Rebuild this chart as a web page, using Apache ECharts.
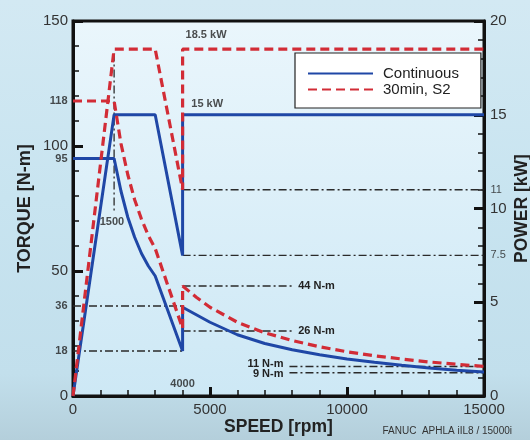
<!DOCTYPE html>
<html>
<head>
<meta charset="utf-8">
<script src="https://cdn.jsdelivr.net/npm/echarts@6/dist/echarts.min.js"></script>
<style>
html,body{margin:0;padding:0;width:530px;height:440px;overflow:hidden;
background:linear-gradient(180deg,#d3e9f3 0%,#c8e4f0 45%,#c2dfec 85%,#b4cfdb 100%);}
#c{width:530px;height:440px;}
</style>
</head>
<body>
<div id="c"></div>
<script>
// ---- data ----
const speedLabels = [0, 5000, 10000, 15000];
const torqueLabels = [0, 50, 100, 150];
const powerLabels = [0, 5, 10, 15, 20];
const torqueExtraLabels = [118, 95, 36, 18];
const powerExtraLabels = [11, 7.5];

// Continuous torque [rpm, N-m]
const contTorque = [[0,95],[1500,95],[1750,82],[2000,71.5],[2250,63.5],[2500,57],[2750,52],[3000,48],[4000,18],
  [4000,35.5],[4500,32.5],[5000,29.5],[6000,24.5],[7000,21],[8000,18.5],[9000,16.5],[10000,14.8],[11000,13.5],[12000,12.3],[13000,11.2],[14000,10.3],[15000,9.6]];
// Continuous power [rpm, kW]
const contPower = [[0,0],[1500,15],[3000,15],[4000,7.5],[4000,15],[15000,15]];
// 30min S2 torque
const s2Torque = [[0,118],[1500,118],[1750,101],[2000,88.5],[2250,78.5],[2500,70.7],[2750,64.2],[3000,59],[4000,27],
  [4000,44],[4500,39.5],[5000,35.5],[6000,29.5],[7000,25.3],[8000,22.2],[9000,19.7],[10000,17.7],[11000,16.1],[12000,14.8],[13000,13.6],[14000,12.7],[15000,11.8]];
// 30min S2 power
const s2Power = [[0,0],[1500,18.5],[3000,18.5],[4000,11],[4000,18.5],[15000,18.5]];

// reference lines: [value, fromRpm, toRpm]
const torqueRefs = [[36,0,4000],[18,0,4000],[44,4000,8000],[26,4000,8000],[11.8,7900,15000],[9.3,7900,15000]];
const torqueRefLabels = ['', '', '44 N-m', '26 N-m', '11 N-m', '9 N-m'];
const powerRefs = [[11,4000,15000],[7.5,4000,15000]];
const speedRef = [1500, 73, 137]; // rpm, torque from, torque to

// annotations
const torqueNotes = [[1420,69.6,'1500'],[4000,4.8,'4000']];
const powerNotes = [[4090,19.25,'18.5 kW'],[4300,15.55,'15 kW']];

const BLUE = '#1f47a6', RED = '#d22c36', REF = '#2a2a2a';
const FONT = 'Liberation Sans, Arial, sans-serif';

const chart = echarts.init(document.getElementById('c'), null, {renderer:'canvas'});

const refStyle = {color: REF, width: 1.3, type: [8,3,2,3]};
const series = [];
const labelOffsets = [[0,0],[0,0],[0,0],[0,0],[0,-3],[0,1]];

torqueRefs.forEach((r, i) => {
  const lab = torqueRefLabels[i];
  const leftLabel = r[1] > 5000;
  const pts = [[r[1], r[0]], [r[2], r[0]]].map((p, k) => {
    const o = {value: p};
    if (lab && ((leftLabel && k === 0) || (!leftLabel && k === 1))) {
      o.label = {show: true, formatter: lab, position: leftLabel ? 'left' : 'right', distance: 6,
        offset: labelOffsets[i],
        fontSize: 11, fontWeight: 'bold', color: '#222', fontFamily: FONT};
    }
    return o;
  });
  series.push({type:'line', yAxisIndex:0, data: pts, symbol:'circle', symbolSize:0.01, showSymbol:true,
    itemStyle:{color:'transparent'}, lineStyle: refStyle, silent:true, z:1, animation:false});
});
powerRefs.forEach(r => {
  series.push({type:'line', yAxisIndex:1, data: [[r[1], r[0]], [r[2], r[0]]], symbol:'none',
    lineStyle: refStyle, silent:true, z:1, animation:false});
});
series.push({type:'line', yAxisIndex:0, data: [[speedRef[0], speedRef[2]], [speedRef[0], speedRef[1]]], symbol:'none',
  lineStyle: refStyle, silent:true, z:1, animation:false});

series.push({name:'Continuous', type:'line', yAxisIndex:0, data: contTorque, symbol:'none',
  lineStyle:{color:BLUE, width:3}, itemStyle:{color:BLUE}, z:3, animation:false});
series.push({name:'Continuous', type:'line', yAxisIndex:1, data: contPower, symbol:'none',
  lineStyle:{color:BLUE, width:3}, itemStyle:{color:BLUE}, z:3, animation:false});
series.push({name:'30min, S2', type:'line', yAxisIndex:0, data: s2Torque, symbol:'none',
  lineStyle:{color:RED, width:3.2, type:[9,5]}, itemStyle:{color:RED}, z:4, animation:false});
series.push({name:'30min, S2', type:'line', yAxisIndex:1, data: s2Power, symbol:'none',
  lineStyle:{color:RED, width:3.2, type:[9,5]}, itemStyle:{color:RED}, z:4, animation:false});

// extra axis labels
series.push({type:'scatter', yAxisIndex:0, clip:false, symbolSize:1, itemStyle:{color:'transparent'},
  data: torqueExtraLabels.map(v => [0, v]),
  label:{show:true, position:'left', distance:5, formatter: p => String(p.value[1]),
    fontSize:11, fontWeight:'bold', color:'#222', fontFamily:FONT}, silent:true, animation:false});
series.push({type:'scatter', yAxisIndex:1, clip:false, symbolSize:1, itemStyle:{color:'transparent'},
  data: powerExtraLabels.map(v => [15000, v]),
  label:{show:true, position:'right', distance:6, formatter: p => String(p.value[1]),
    fontSize:11, color:'#222', fontFamily:FONT}, silent:true, animation:false});
// annotations
series.push({type:'scatter', yAxisIndex:0, clip:false, symbolSize:1, itemStyle:{color:'transparent'},
  data: torqueNotes.map(n => ({value:[n[0], n[1]], name:n[2]})),
  label:{show:true, position:'inside', formatter: p => p.name,
    fontSize:11, fontWeight:'bold', color:'#222', fontFamily:FONT}, silent:true, animation:false});
series.push({type:'scatter', yAxisIndex:1, clip:false, symbolSize:1, itemStyle:{color:'transparent'},
  data: powerNotes.map(n => ({value:[n[0], n[1]], name:n[2]})),
  label:{show:true, position:'right', distance:0, formatter: p => p.name,
    fontSize:11, fontWeight:'bold', color:'#222', fontFamily:FONT}, silent:true, animation:false});

const axisLine = {show:true, lineStyle:{color:'#111', width:3}};
const labelStyle = {fontSize:15, color:'#333', fontFamily:FONT};

chart.setOption({
  backgroundColor: 'transparent',
  animation: false,
  grid: {left:73, right:46, top:21, bottom:44, show:true, borderColor:'#111', borderWidth:3,
    containLabel:false, outerBoundsMode:'none',
    backgroundColor: new echarts.graphic.LinearGradient(0,0,0,1,[{offset:0,color:'#eaf6fc'},{offset:1,color:'#cde8f5'}])},
  legend: {data:['Continuous','30min, S2'], orient:'vertical', left:295, top:53,
    padding:[13,22,11,12], itemGap:1, itemWidth:65, itemHeight:16,
    itemStyle:{opacity:0},
    backgroundColor:'#ffffff', borderColor:'#222', borderWidth:1.2, borderRadius:0,
    textStyle:{fontSize:15, color:'#222', fontFamily:FONT, padding:[0,0,0,5]}, selectedMode:false},
  xAxis: {type:'value', min:0, max:15000, interval:5000,
    axisLine: axisLine, splitLine:{show:false},
    axisTick:{show:true, inside:true, length:9, lineStyle:{width:3, color:'#111'}},
    minorTick:{show:true, splitNumber:5, length:6, lineStyle:{width:1.5, color:'#111'}},
    axisLabel: Object.assign({margin:6, formatter: v => speedLabels.includes(v) ? String(v) : ''}, labelStyle),
    name:'SPEED [rpm]', nameLocation:'middle', nameGap:22, nameMoveOverlap:false,
    nameTextStyle:{fontSize:17.5, fontWeight:'bold', color:'#222', fontFamily:FONT}},
  yAxis: [
    {type:'value', min:0, max:150, interval:50, position:'left',
      axisLine: axisLine, splitLine:{show:false},
      axisTick:{show:true, inside:true, length:10, lineStyle:{width:3, color:'#111'}},
      minorTick:{show:true, splitNumber:5, length:6, lineStyle:{width:1.5, color:'#111'}},
      axisLabel: Object.assign({margin:5, formatter: v => torqueLabels.includes(v) ? String(v) : ''}, labelStyle),
      name:'TORQUE [N-m]', nameLocation:'middle', nameGap:39, nameRotate:90, nameMoveOverlap:false,
      nameTextStyle:{fontSize:18, fontWeight:'bold', color:'#222', fontFamily:FONT}},
    {type:'value', min:0, max:20, interval:5, position:'right',
      axisLine: axisLine, splitLine:{show:false},
      axisTick:{show:true, inside:true, length:10, lineStyle:{width:3, color:'#111'}},
      minorTick:{show:true, splitNumber:5, length:6, lineStyle:{width:1.5, color:'#111'}},
      axisLabel: Object.assign({margin:6, formatter: v => powerLabels.includes(v) ? String(v) : ''}, labelStyle),
      name:'POWER [kW]', nameLocation:'middle', nameGap:29, nameRotate:90, nameMoveOverlap:false,
      nameTextStyle:{fontSize:17.5, fontWeight:'bold', color:'#222', fontFamily:FONT}}
  ],
  graphic: [{type:'text', right:18, bottom:4, style:{text:'FANUC  APHLA iIL8 / 15000i', fontSize:10, fill:'#333', fontFamily:FONT}}],
  series: series
});
</script>
</body>
</html>
